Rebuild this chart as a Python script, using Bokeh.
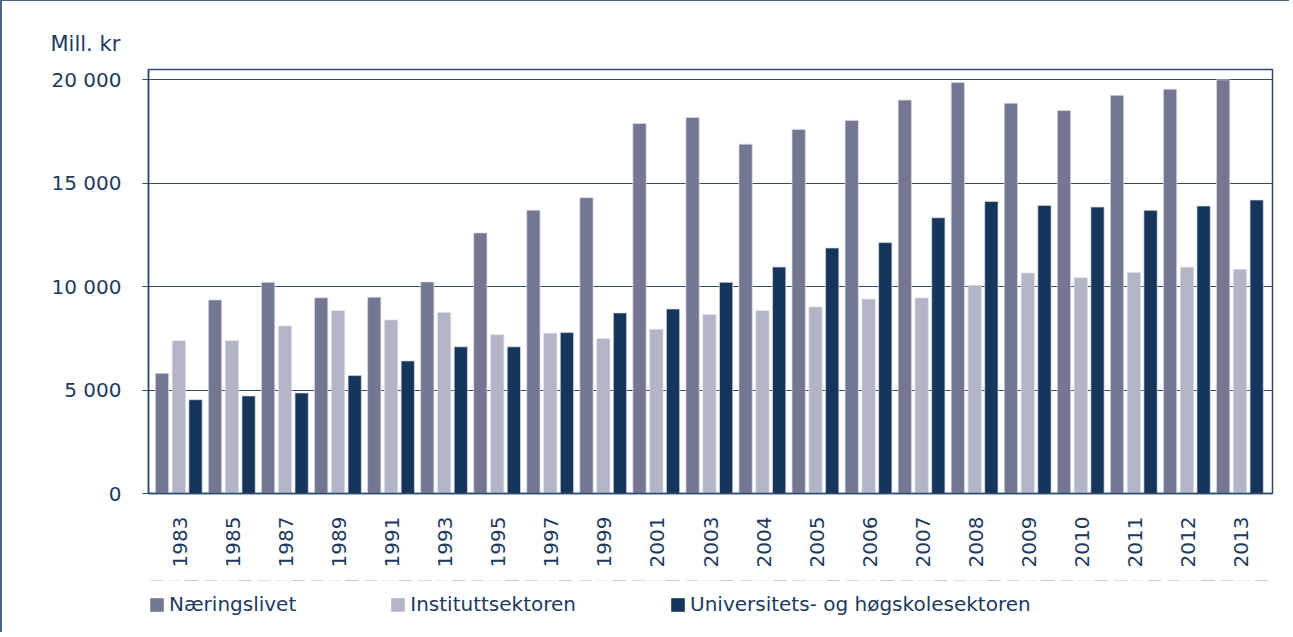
from bokeh.plotting import figure
from bokeh.layouts import column
from bokeh.models import (ColumnDataSource, FactorRange, Range1d, FixedTicker,
                          Legend, LegendItem)
from bokeh.transform import dodge
from bokeh.embed import file_html
from bokeh.resources import INLINE

years = ["1983", "1985", "1987", "1989", "1991", "1993", "1995", "1997", "1999",
         "2001", "2003", "2004", "2005", "2006", "2007", "2008", "2009", "2010",
         "2011", "2012", "2013"]
naeringslivet = [5810, 9360, 10210, 9460, 9490, 10230, 12600, 13700, 14300,
                 17890, 18180, 16890, 17600, 18040, 19020, 19870, 18870, 18520,
                 19250, 19550, 20000]
instituttsektoren = [7390, 7390, 8100, 8840, 8390, 8750, 7680, 7750, 7490,
                     7940, 8650, 8840, 9020, 9400, 9450, 10070, 10660, 10430,
                     10680, 10940, 10840]
uh_sektoren = [4535, 4715, 4860, 5700, 6410, 7090, 7090, 7780, 8730,
               8920, 10210, 10950, 11870, 12130, 13330, 14120, 13930, 13850,
               13690, 13900, 14190]
series_names = ["Næringslivet", "Instituttsektoren",
                "Universitets- og høgskolesektoren"]
y_ticks = [0, 5000, 10000, 15000, 20000]
y_tick_labels = ["0", "5 000", "10 000", "15 000", "20 000"]

NAVY = "#1d3a5e"
FRAME = "#2f4b6e"
BORDER = "#4a6585"
colors = ["#737791", "#b3b4c6", "#15355a"]
FONT = "DejaVu Sans"

source = ColumnDataSource(data=dict(year=years, n=naeringslivet,
                                    i=instituttsektoren, u=uh_sektoren))
fields = ["n", "i", "u"]
offsets = [-0.338, -0.02, 0.294]

# ---------------- main chart ----------------
p = figure(x_range=FactorRange(factors=years, range_padding=0.0925,
                               range_padding_units="absolute"),
           y_range=Range1d(0, 20500),
           width=1289, height=580, output_backend="svg", toolbar_location=None,
           min_border_left=146, min_border_right=19, min_border_top=68,
           min_border_bottom=88)
p.styles = {"border-top": f"1px solid {BORDER}", "border-left": f"2px solid {BORDER}"}

p.outline_line_color = FRAME
p.outline_line_width = 1.5
p.background_fill_color = "white"
p.border_fill_color = "white"

for f, off, c in zip(fields, offsets, colors):
    p.vbar(x=dodge("year", off, range=p.x_range), top=f, width=0.25,
           source=source, fill_color=c, line_color="#dcdde6", line_width=0.7)

p.xgrid.grid_line_color = None
p.ygrid.ticker = FixedTicker(ticks=y_ticks)
p.ygrid.grid_line_color = FRAME
p.ygrid.grid_line_width = 1

p.yaxis.ticker = FixedTicker(ticks=y_ticks)
p.yaxis.major_label_overrides = {t: l for t, l in zip(y_ticks, y_tick_labels)}
p.yaxis.minor_tick_line_color = None
p.yaxis.major_tick_out = 6
p.yaxis.major_tick_in = 0
p.yaxis.major_tick_line_color = FRAME
p.yaxis.axis_line_color = FRAME
p.yaxis.axis_line_width = 1.5
p.yaxis.major_label_standoff = 21
p.yaxis.major_label_text_font = FONT
p.yaxis.major_label_text_font_size = "20px"
p.yaxis.major_label_text_color = NAVY

p.xaxis.major_tick_line_color = None
p.xaxis.major_tick_out = 0
p.xaxis.major_tick_in = 0
p.xaxis.minor_tick_line_color = None
p.xaxis.axis_line_color = FRAME
p.xaxis.axis_line_width = 1.5
p.xaxis.major_label_orientation = 3.14159265 / 2
p.xaxis.major_label_standoff = 23
p.xaxis.major_label_text_font = FONT
p.xaxis.major_label_text_font_size = "20px"
p.xaxis.major_label_text_color = NAVY

p.title.text = "Mill. kr"
p.title.align = "left"
p.title.offset = -98
p.title.text_font = FONT
p.title.text_font_size = "21px"
p.title.text_font_style = "normal"
p.title.text_color = NAVY
p.title.standoff = 27

# ---------------- legend strip ----------------
pl = figure(width=1289, height=52, x_range=FactorRange(factors=years),
            y_range=Range1d(-50000, -30000), output_backend="svg",
            toolbar_location=None, x_axis_type=None, y_axis_type=None,
            min_border=0)
pl.styles = {"border-left": f"2px solid {BORDER}"}
pl.outline_line_color = None
pl.grid.visible = False
pl.background_fill_color = "white"
pl.border_fill_color = "white"

# legend keys (the series bars lie outside this strip's visible range)
leg_renderers = []
for f, off, c in zip(fields, offsets, colors):
    r = pl.vbar(x=dodge("year", off, range=pl.x_range), top=f, width=0.25,
                source=source, fill_color=c, line_color=None)
    leg_renderers.append(r)

legend = Legend(items=[LegendItem(label=n, renderers=[r])
                       for n, r in zip(series_names, leg_renderers)],
                location=(0, 16), orientation="horizontal",
                padding=0, margin=0, spacing=93, border_line_color=None,
                background_fill_alpha=0, glyph_width=17, glyph_height=17,
                label_standoff=4, label_height=24, label_text_font=FONT,
                label_text_font_size="20px", label_text_color=NAVY)
pl.add_layout(legend)

layout = column(p, pl, spacing=0)
open("out.html", "w").write(file_html(layout, INLINE))
